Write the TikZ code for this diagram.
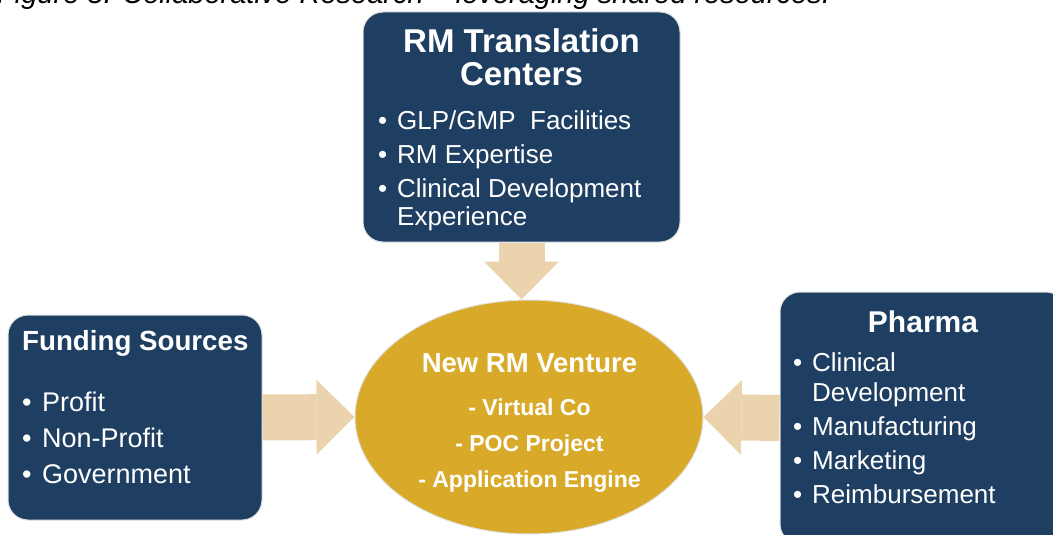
\documentclass[tikz,border=0pt]{standalone}
\usepackage{fontspec}
\setmainfont{Liberation Sans}
\usetikzlibrary{arrows.meta,shapes.geometric}
\definecolor{navy}{HTML}{1F3F62}
\definecolor{gold}{HTML}{D9A929}
\definecolor{tanarrow}{HTML}{EBD3AE}
\newcommand{\itm}{\makebox[19pt][l]{\textbullet}}
\newcommand{\fsz}[2]{\fontsize{#1}{#2}\selectfont}
\begin{document}
\begin{tikzpicture}[x=1pt,y=-1pt,
  box/.style={rectangle,rounded corners=20pt,fill=navy,draw=black!12,line width=1pt,inner sep=0pt},
  venture node/.style={ellipse,fill=gold,draw=black!12,line width=1pt,inner sep=0pt,minimum width=348pt,minimum height=234pt},
  blockarrow/.style={draw=tanarrow,line width=46pt,-{Triangle[width=75pt,length=38pt,line width=0pt,fill=tanarrow]}}]
\useasboundingbox (0,0) rectangle (1053,535);
\clip (0,0) rectangle (1053,535);
% caption, cut by the top edge
\node[font=\itshape\fsz{29}{30},anchor=base west,inner sep=0pt] (cap) at (-3,3.5) {Figure 5. Collaborative Research – leveraging shared resources.};
% the four blocks
\node[box,minimum width=317pt,minimum height=230pt] (rmc) at (521.5,127) {};%top
\node[box,minimum width=254pt,minimum height=205pt] (fund) at (135,417.5) {};%left
\node[box,minimum width=286pt,minimum height=252pt] (pharma) at (923,418) {};%right
\node[venture node] (venture) at (529,417) {};%centre
% texts (base = last line)
\begin{scope}[every node/.style={text=white,inner sep=0pt}]
\node[font=\bfseries\fsz{33}{34},align=center,anchor=base] (rmctitle) at (521.5,86) {RM Translation\\Centers};
\node[font=\fsz{26}{28},align=left,anchor=base west] (rmclist) at (378,225) {\itm GLP/GMP\ \ Facilities\\[6pt]\itm RM Expertise\\[6pt]\itm Clinical Development\\\hspace*{19pt}Experience};
\node[font=\bfseries\fsz{27.7}{30},anchor=base west] (fundtitle) at (22,350) {Funding Sources};
\node[font=\fsz{27}{36},align=left,anchor=base west] (fundlist) at (22,483) {\makebox[20pt][l]{\textbullet}Profit\\\makebox[20pt][l]{\textbullet}Non-Profit\\\makebox[20pt][l]{\textbullet}Government};
\node[font=\bfseries\fsz{30}{32},anchor=base] (pharmatitle) at (923,332) {Pharma};
\node[font=\fsz{26}{30},align=left,anchor=base west] (pharmalist) at (793,503) {\itm Clinical\\\hspace*{19pt}Development\\[4pt]\itm Manufacturing\\[4pt]\itm Marketing\\[4pt]\itm Reimbursement};
\node[font=\bfseries\fsz{27.5}{30},anchor=base] (venturetitle) at (529.5,372) {New RM Venture};
\node[font=\bfseries\fsz{23}{36},align=center,anchor=base] (venturelist) at (529.5,487) {- Virtual Co\\- POC Project\\- Application Engine};
\end{scope}
% fat arrows into the venture
\draw[blockarrow] (rmc.south) -- (rmc.south |- venture.north);
\draw[blockarrow] (fund.east) -- (venture.west);
\draw[blockarrow] (pharma.west) -- (venture.east);
\end{tikzpicture}
\end{document}
